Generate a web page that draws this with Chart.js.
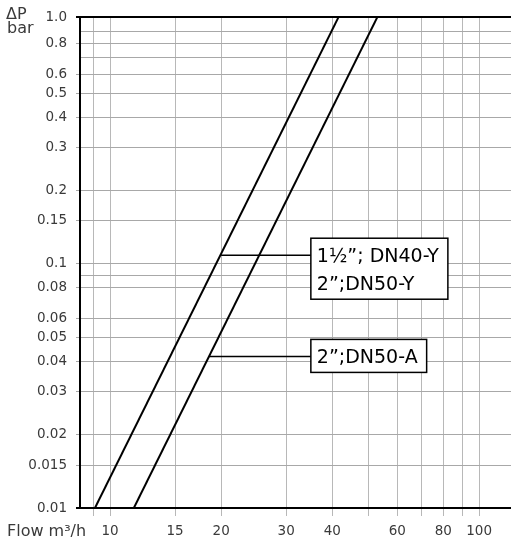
<!DOCTYPE html>
<html>
<head>
<meta charset="utf-8">
<script src="https://cdn.jsdelivr.net/npm/chart.js@4.4.1/dist/chart.umd.min.js"></script>
<style>
    html, body { margin: 0; padding: 0; background: #fff; }
    #wrap { width: 511px; height: 542px; }
</style>
</head>
<body>
<div id="wrap"><canvas id="chart"></canvas></div>
<script>
// 축 범위
const flowMin = 8.29;
const flowMax = 122;
const dpMin = 0.01;
const dpMax = 1.027;

// 격자선 / 눈금 라벨
const flowGrid = [9, 10, 15, 20, 30, 40, 50, 60, 70, 80, 90, 100];
const flowLabels = [10, 15, 20, 30, 40, 60, 80, 100];
const dpGrid = [0.01, 0.015, 0.02, 0.03, 0.04, 0.05, 0.06, 0.08, 0.09, 0.1, 0.15, 0.2, 0.3, 0.4, 0.5, 0.6, 0.7, 0.8, 0.9, dpMax];
const dpLabels = [0.01, 0.015, 0.02, 0.03, 0.04, 0.05, 0.06, 0.08, 0.1, 0.15, 0.2, 0.3, 0.4, 0.5, 0.6, 0.8];

// 곡선 (유량 m3/h, 차압 bar)
const curveYFlow = [9.1, 41.6];
const curveAFlow = [11.6, 53.0];
const curveDp = [0.01, 1.027];

// 라벨 지시선
const leaderDp = [0.1086, 0.0418];
const leaderFrom = [20.0, 18.55];
const leaderTo = [35.0, 35.0];
const leaderText = [['1½”; DN40-Y', '2”;DN50-Y'], ['2”;DN50-A']];

const tickFont = { family: "'DejaVu Sans', sans-serif", size: 13.5 };
const textColor = '#3a3a3a';

function toPoints(xs, ys) {
    return xs.map((v, i) => ({ x: v, y: ys[i] }));
}

const datasets = [
    { data: toPoints(curveYFlow, curveDp), borderWidth: 2 },
    { data: toPoints(curveAFlow, curveDp), borderWidth: 2 }
];
leaderDp.forEach((dp, i) => {
    datasets.push({ data: toPoints([leaderFrom[i], leaderTo[i]], [dp, dp]), borderWidth: 1.5 });
});
datasets.forEach(ds => {
    ds.borderColor = '#000';
    ds.pointRadius = 0;
    ds.tension = 0;
});

// 라벨 상자와 축 제목
const labelPlugin = {
    id: 'labelBoxes',
    afterDatasetsDraw(chart) {
        const { ctx } = chart;
        const x = chart.scales.x;
        const y = chart.scales.y;
        ctx.save();
        ctx.font = "19px 'DejaVu Sans', sans-serif";
        leaderText.forEach((lines, i) => {
            const left = x.getPixelForValue(leaderTo[i]);
            const cy = y.getPixelForValue(leaderDp[i]);
            const w = Math.max(...lines.map(t => ctx.measureText(t).width)) + 15;
            const top = cy - 17;
            const h = 28 * (lines.length - 1) + 33;
            ctx.fillStyle = '#fff';
            ctx.fillRect(left, top, w, h);
            ctx.strokeStyle = '#000';
            ctx.lineWidth = 1.5;
            ctx.strokeRect(left, top, w, h);
            ctx.fillStyle = '#000';
            ctx.textBaseline = 'alphabetic';
            lines.forEach((t, j) => ctx.fillText(t, left + 6, cy + 7 + 28 * j));
        });

        ctx.font = "16px 'DejaVu Sans', sans-serif";
        ctx.fillStyle = textColor;
        ctx.fillText('ΔP', 6, 19);
        ctx.fillText('bar', 7, 33);
        ctx.fillText('Flow m³/h', 7, 536);
        ctx.restore();
    }
};

new Chart(document.getElementById('chart'), {
    type: 'line',
    data: { datasets },
    plugins: [labelPlugin],
    options: {
        responsive: true,
        maintainAspectRatio: false,
        animation: false,
        layout: { padding: { top: 14, right: 0, left: 0, bottom: 0 } },
        plugins: { legend: { display: false }, tooltip: { enabled: false } },
        scales: {
            x: {
                type: 'logarithmic',
                min: flowMin,
                max: flowMax,
                afterBuildTicks: s => { s.ticks = flowGrid.map(v => ({ value: v })); },
                afterFit: s => { s.height = 34; },
                ticks: {
                    autoSkip: false,
                    maxRotation: 0,
                    padding: 7,
                    font: tickFont,
                    color: textColor,
                    callback: v => flowLabels.includes(v) ? String(v) : ''
                },
                grid: { color: '#b8b8b8', tickColor: '#b8b8b8', tickLength: 8, lineWidth: 1 },
                border: { color: '#000', width: 2 }
            },
            y: {
                type: 'logarithmic',
                min: dpMin,
                max: dpMax,
                afterBuildTicks: s => { s.ticks = dpGrid.map(v => ({ value: v })); },
                afterFit: s => { s.width = 80; },
                ticks: {
                    autoSkip: false,
                    padding: 9,
                    font: tickFont,
                    color: textColor,
                    callback: v => v === dpMax ? '1.0' : (dpLabels.includes(v) ? String(v) : '')
                },
                grid: {
                    tickLength: 4,
                    color: c => (c.tick && (c.tick.value === dpMin || c.tick.value === dpMax)) ? '#000' : '#a8a8a8',
                    lineWidth: c => (c.tick && (c.tick.value === dpMin || c.tick.value === dpMax)) ? 2 : 1,
                    tickColor: c => {
                        if (!c.tick) return 'rgba(0,0,0,0)';
                        const v = c.tick.value;
                        if (v === dpMin || v === dpMax) return '#000';
                        return dpLabels.includes(v) ? '#a8a8a8' : 'rgba(0,0,0,0)';
                    }
                },
                border: { color: '#000', width: 2 }
            }
        }
    }
});
</script>
</body>
</html>
